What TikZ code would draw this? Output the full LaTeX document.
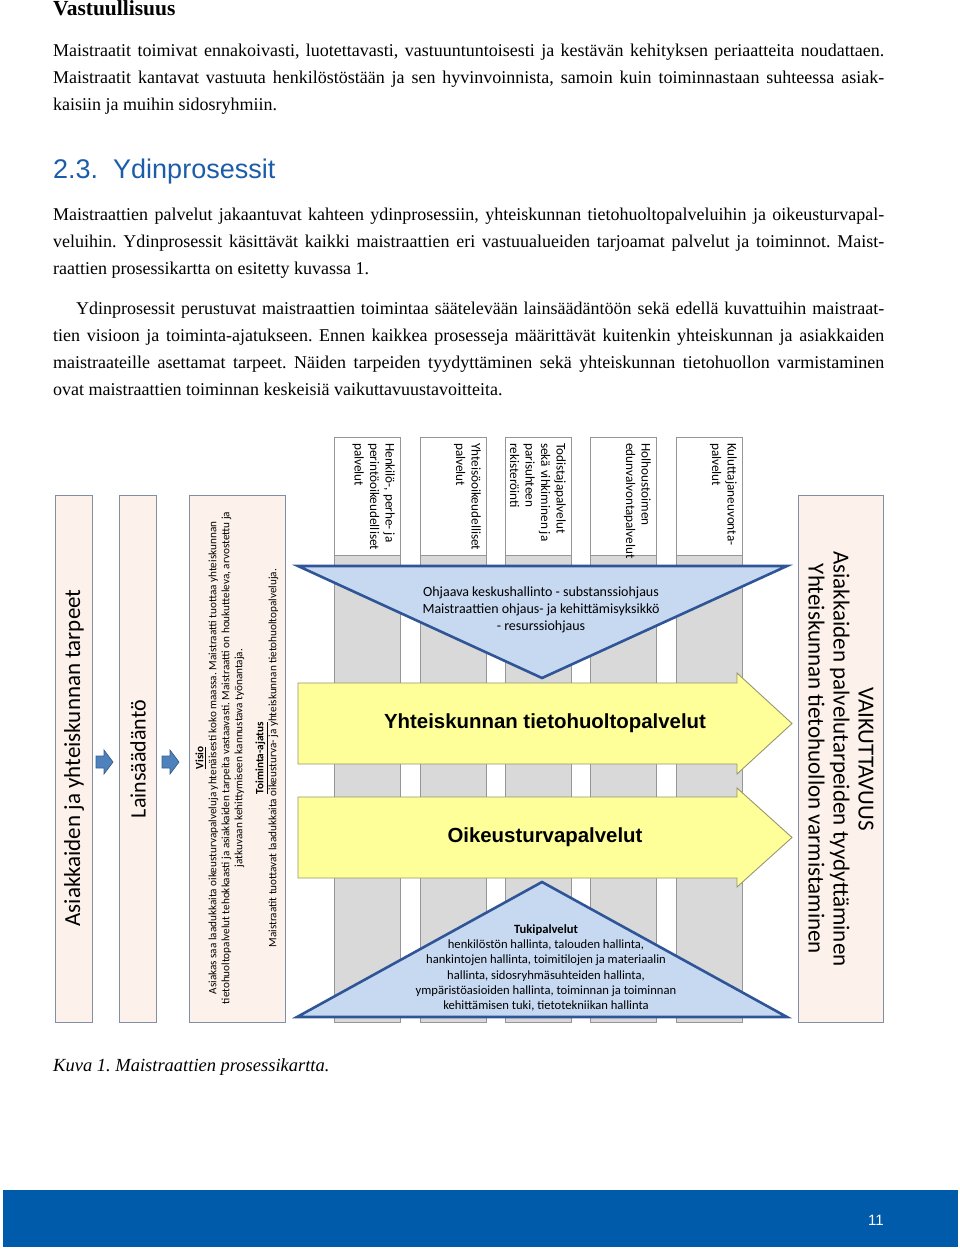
\documentclass[tikz,border=0pt]{standalone}
\usepackage{fontspec}
\setmainfont{Liberation Serif}
\newfontfamily\calfont{Carlito}
\newfontfamily\arialfont{Liberation Sans}
\frenchspacing

\begin{document}
\begin{tikzpicture}[x=1pt,y=-1pt,
  pinkbox/.style={draw=boxline,fill=boxpink,line width=0.9pt},
  colbox/.style={draw=colline,fill=colgrey,line width=0.9pt},
  headbox/.style={draw=colline,fill=white,line width=0.9pt},
  blutri/.style={draw=tridark,fill=trilight,line width=2.6pt,line join=miter},
  yelarrow/.style={draw=yelline,fill=yelfill,line width=0.9pt},
  bluarrow/.style={draw=bluline,fill=blufill,line width=0.7pt},
  bodytext/.style={anchor=north west,inner sep=0pt,text width=831pt,align=justify,
    font=\fontsize{18}{27}\selectfont},
  headtext/.style={rotate=-90,anchor=north west,inner sep=0pt,align=left,
    font=\calfont\fontsize{13.2}{15.5}\selectfont}]

\definecolor{boxpink}{RGB}{253,242,235};
\definecolor{boxline}{RGB}{128,142,166};
\definecolor{colgrey}{RGB}{217,217,217};
\definecolor{colline}{RGB}{150,150,150};
\definecolor{tridark}{RGB}{47,85,151};
\definecolor{trilight}{RGB}{198,217,241};
\definecolor{yelline}{RGB}{150,150,110};
\definecolor{yelfill}{RGB}{255,255,153};
\definecolor{blufill}{RGB}{79,129,189};
\definecolor{bluline}{RGB}{56,93,138};
\definecolor{headblue}{RGB}{27,93,168};
\definecolor{footblue}{RGB}{0,91,170};

\useasboundingbox (0,0) rectangle (960,1253);

% page text
\node[anchor=base west,inner sep=0pt,font=\fontsize{21.5}{24}\selectfont\bfseries] (title) at (53,15) {Vastuullisuus};

\node[bodytext] (par1) at (53,44) {Maistraatit toimivat ennakoivasti, luotettavasti, vastuuntuntoisesti ja kestävän kehityksen periaatteita noudattaen.\linebreak
Maistraatit kantavat vastuuta henkilöstöstään ja sen hyvinvoinnista, samoin kuin toiminnastaan suhteessa asiak-\linebreak
kaisiin ja muihin sidosryhmiin.};

\node[anchor=base west,inner sep=0pt,font=\arialfont\fontsize{27}{30}\selectfont,text=headblue] (sect) at (53,178) {2.3.\ \ Ydinprosessit};

\node[bodytext] (par2) at (53,207.5) {Maistraattien palvelut jakaantuvat kahteen ydinprosessiin, yhteiskunnan tietohuoltopalveluihin ja oikeusturvapal-\linebreak
veluihin. Ydinprosessit käsittävät kaikki maistraattien eri vastuualueiden tarjoamat palvelut ja toiminnot. Maist-\linebreak
raattien prosessikartta on esitetty kuvassa 1.};

\node[bodytext] (par3) at (53,301.5) {\hspace*{23pt}Ydinprosessit perustuvat maistraattien toimintaa säätelevään lainsäädäntöön sekä edellä kuvattuihin maistraat-\linebreak
tien visioon ja toiminta-ajatukseen. Ennen kaikkea prosesseja määrittävät kuitenkin yhteiskunnan ja asiakkaiden\linebreak
maistraateille asettamat tarpeet. Näiden tarpeiden tyydyttäminen sekä yhteiskunnan tietohuollon varmistaminen\linebreak
ovat maistraattien toiminnan keskeisiä vaikuttavuustavoitteita.};

% left side
\draw[pinkbox] (55,495) rectangle (92,1022);
\draw[pinkbox] (119,495) rectangle (156,1022);
\draw[pinkbox] (189,495) rectangle (285,1022);
\draw[pinkbox] (798,495) rectangle (883,1022);

\node[rotate=90,font=\calfont\fontsize{23}{27}\selectfont] (needs) at (74,758) {Asiakkaiden ja yhteiskunnan tarpeet};
\node[rotate=90,font=\calfont\fontsize{22}{27}\selectfont] (laws) at (138,759) {Lainsäädäntö};

\draw[bluarrow] (96,756) -- (104,756) -- (104,750) -- (113,762) -- (104,774) -- (104,768) -- (96,768) -- cycle;
\draw[bluarrow] (162,756) -- (170,756) -- (170,750) -- (179,762) -- (170,774) -- (170,768) -- (162,768) -- cycle;

\node[rotate=90,align=center,font=\calfont\fontsize{11.2}{13}\selectfont] (visio) at (237,758) {{\bfseries\underline{Visio}}\\
Asiakas saa laadukkaita oikeusturvapalveluja yhtenäisesti koko maassa. Maistraatti tuottaa yhteiskunnan\\
tietohuoltopalvelut tehokkaasti ja asiakkaiden tarpeita vastaavasti. Maistraatti on houkutteleva, arvostettu ja\\
jatkuvaan kehittymiseen kannustava työnantaja.\\[8pt]
{\bfseries\underline{Toiminta-ajatus}}\\
Maistraatit tuottavat laadukkaita oikeusturva- ja yhteiskunnan tietohuoltopalveluja.};

% columns
\foreach \xa in {334,420,505,590,676} {
  \draw[colbox] (\xa,437) rectangle (\xa+66,1022);
  \draw[headbox] (\xa,437) rectangle (\xa+66,555);
}

\node[headtext] (srv1) at (395,443) {Henkilö-, perhe- ja\\perintöoikeudelliset\\palvelut};
\node[headtext] (srv2) at (481,443) {Yhteisöoikeudelliset\\palvelut};
\node[headtext] (srv3) at (566,443) {Todistajapalvelut\\sekä vihkiminen ja\\parisuhteen\\rekisteröinti};
\node[headtext] (srv4) at (651,443) {Holhoustoimen\\edunvalvontapalvelut};
\node[headtext] (srv5) at (737,443) {Kuluttajaneuvonta-\\palvelut};

% arrows and triangles
\draw[yelarrow] (298,683) -- (737,683) -- (737,673) -- (792,723.5) -- (737,774) -- (737,764) -- (298,764) -- cycle;
\draw[yelarrow] (298,797) -- (737,797) -- (737,788) -- (792,837.5) -- (737,887) -- (737,878) -- (298,878) -- cycle;

\node[font=\arialfont\fontsize{20.4}{24}\selectfont\bfseries] (core1) at (545,723) {Yhteiskunnan tietohuoltopalvelut};
\node[font=\arialfont\fontsize{20.4}{24}\selectfont\bfseries] (core2) at (545,837) {Oikeusturvapalvelut};

\draw[blutri] (298,566) -- (787,566) -- (542,678) -- cycle;
\draw[blutri] (297,1017) -- (787,1017) -- (542,882) -- cycle;

\node[align=center,font=\calfont\fontsize{14}{17}\selectfont] (steer) at (541,610) {Ohjaava keskushallinto - substanssiohjaus\\Maistraattien ohjaus- ja kehittämisyksikkö\\- resurssiohjaus};

\node[align=center,font=\calfont\fontsize{12.6}{15.3}\selectfont] (support) at (546,968) {{\bfseries Tukipalvelut}\\
henkilöstön hallinta, talouden hallinta,\\
hankintojen hallinta, toimitilojen ja materiaalin\\
hallinta, sidosryhmäsuhteiden hallinta,\\
ympäristöasioiden hallinta, toiminnan ja toiminnan\\
kehittämisen tuki, tietotekniikan hallinta};

\node[rotate=-90,align=center,font=\calfont\fontsize{23}{25}\selectfont] (impact) at (841,759) {VAIKUTTAVUUS\\
Asiakkaiden palvelutarpeiden tyydyttäminen\\
Yhteiskunnan tietohuollon varmistaminen};

% caption and footer
\node[anchor=base west,inner sep=0pt,font=\fontsize{18.5}{20}\selectfont\itshape] (caption) at (53,1071) {Kuva 1. Maistraattien prosessikartta.};

\fill[footblue] (3,1190) rectangle (958,1247);
\node[text=white,font=\arialfont\fontsize{15}{18}\selectfont] (pageno) at (876,1220) {11};
\end{tikzpicture}
\end{document}
